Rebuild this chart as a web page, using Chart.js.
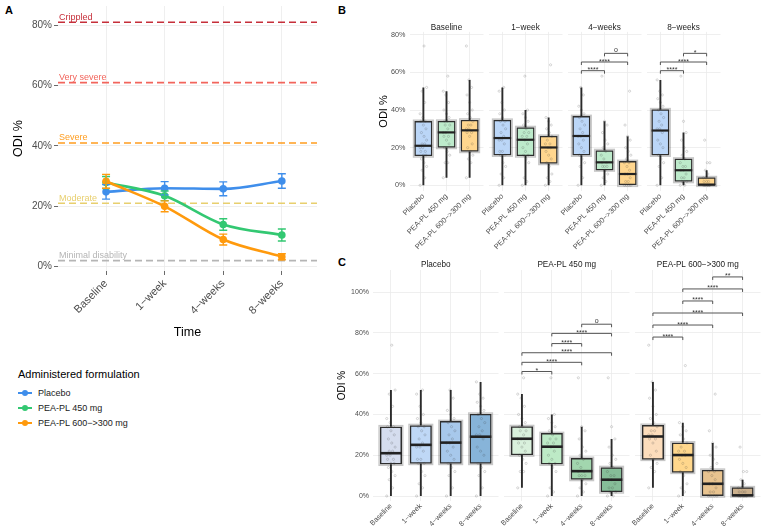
<!DOCTYPE html>
<html>
<head>
<meta charset="utf-8">
<title>ODI % over time</title>
<script src="https://cdn.jsdelivr.net/npm/chart.js@4.4.1/dist/chart.umd.min.js"></script>
<style>
  html, body { margin:0; padding:0; background:#ffffff; }
  #root { position:relative; width:765px; height:528px; overflow:hidden; font-family:"Liberation Sans", Arial, Helvetica, sans-serif; }
  #root canvas { position:absolute; }
  .letter { position:absolute; font-weight:bold; font-size:11px; line-height:12px; color:#000; }
  .leg-title { position:absolute; left:18px; top:367px; font-size:11px; line-height:14px; color:#000; white-space:nowrap; }
  .leg-item { position:absolute; left:18px; height:12px; width:200px; font-size:9px; line-height:12px; color:#1a1a1a; white-space:nowrap; }
  .leg-key { position:absolute; left:0; top:5px; width:14px; height:2px; }
  .leg-dot { position:absolute; left:4px; top:-2px; width:6px; height:6px; border-radius:50%; }
  .leg-text { position:absolute; left:20px; top:0; }
</style>
</head>
<body>
<div id="root">
  <div class="letter" style="left:5px;top:4px;">A</div>
  <div class="letter" style="left:338px;top:4px;">B</div>
  <div class="letter" style="left:338px;top:256px;">C</div>
  <div class="leg-title">Administered formulation</div>
</div>
<script>
// ---------------- data ----------------
const timepoints = ['Baseline', '1\u2212week', '4\u2212weeks', '8\u2212weeks'];
const formulations = ['Placebo', 'PEA-PL 450 mg', 'PEA-PL 600\u2212>300 mg'];

// Panel A: mean ODI % and standard error per time point
const meanPlacebo = [24.8, 26.0, 25.8, 28.4];
const sePlacebo   = [2.4, 2.2, 2.3, 2.4];
const mean450     = [27.9, 23.5, 14.0, 10.5];
const se450       = [2.0, 1.6, 1.9, 2.0];
const mean600     = [28.3, 20.0, 9.0, 3.3];
const se600       = [2.3, 1.8, 1.8, 1.0];

const thresholdValues = [81, 61, 41, 21, 2];
const thresholdLabels = ['Crippled', 'Very severe', 'Severe', 'Moderate', 'Minimal disability'];

const yTicksA = [0, 20, 40, 60, 80];
const yTicksB = [0, 20, 40, 60, 80];
const yTicksC = [0, 20, 40, 60, 80, 100];

// Box statistics [min, q1, median, q3, max] per time point
const boxPlacebo = [[0, 15.6, 21.0, 34.0, 52], [0, 16.0, 25.1, 34.6, 52], [0, 16.0, 26.2, 36.6, 52], [0, 16.0, 29.1, 40.2, 56]];
const box450     = [[4, 20.1, 28.1, 34.1, 50], [0, 15.6, 24.2, 30.7, 40], [0, 8.1, 12.2, 18.5, 34], [0, 2.0, 8.0, 14.0, 28]];
const box600     = [[4, 18.0, 29.2, 34.7, 56], [0, 11.6, 20.1, 26.1, 36], [0, 0, 6.0, 12.7, 26], [0, 0, 0.3, 4.1, 8]];

// Individual observations (ODI %) per time point
const ptsPlacebo = [
  [0, 4, 8, 10, 12, 14, 16, 16, 18, 18, 20, 20, 22, 22, 24, 26, 28, 30, 32, 34, 34, 36, 38, 44, 50, 52, 74],
  [0, 4, 6, 10, 12, 16, 16, 18, 18, 22, 24, 24, 26, 28, 30, 32, 34, 34, 36, 38, 40, 44, 50, 52],
  [0, 4, 10, 12, 14, 16, 18, 20, 22, 24, 26, 26, 28, 30, 32, 34, 36, 38, 40, 42, 48, 52],
  [0, 4, 10, 12, 14, 16, 20, 22, 24, 28, 30, 30, 32, 34, 36, 38, 40, 42, 44, 46, 48, 50, 56]
];
const pts450 = [
  [4, 12, 12, 16, 18, 20, 22, 24, 26, 26, 28, 28, 30, 32, 32, 34, 34, 36, 38, 40, 44, 48, 50, 58],
  [0, 2, 4, 12, 14, 16, 16, 18, 20, 22, 24, 26, 26, 28, 28, 30, 32, 34, 36, 38, 40, 58],
  [0, 2, 4, 6, 8, 10, 10, 10, 12, 12, 14, 16, 18, 20, 22, 24, 28, 32, 34, 58],
  [0, 0, 2, 2, 4, 4, 6, 8, 8, 10, 10, 12, 14, 16, 18, 20, 24, 28, 34, 58]
];
const pts600 = [
  [4, 12, 14, 16, 18, 20, 22, 26, 28, 28, 30, 30, 32, 32, 34, 36, 38, 40, 44, 48, 52, 56, 74],
  [0, 2, 4, 6, 10, 12, 14, 16, 18, 20, 20, 22, 22, 24, 26, 28, 30, 32, 34, 36, 64],
  [0, 0, 0, 0, 2, 2, 4, 6, 6, 8, 10, 12, 12, 14, 16, 18, 20, 24, 26, 32, 50],
  [0, 0, 0, 0, 0, 0, 0, 2, 2, 2, 4, 4, 6, 8, 12, 12, 24]
];

// Pairwise comparisons [groupA, groupB, ODI % height, label]
const sigB = [
  [],
  [],
  [[1, 2, 60.9, '****'], [1, 3, 65.5, '****'], [2, 3, 70.1, 'o']],
  [[1, 2, 60.9, '****'], [1, 3, 65.5, '****'], [2, 3, 70.1, '*']]
];
const sigC = [
  [],
  [[1, 2, 61.1, '*'], [1, 3, 65.6, '****'], [1, 4, 70.3, '****'], [2, 3, 74.8, '****'], [2, 4, 79.8, '****'], [3, 4, 84.3, 'o']],
  [[1, 2, 78.0, '****'], [1, 3, 83.9, '****'], [1, 4, 89.8, '****'], [2, 3, 95.7, '****'], [2, 4, 101.6, '****'], [3, 4, 107.5, '**']]
];

// ---------------- styles ----------------
const FONT = '"Liberation Sans", Arial, Helvetica, sans-serif';
const lineColors = ['#3F8EEB', '#33C872', '#FF9A0D'];
const thresholdColors = ['#C62F3A', '#F2655C', '#FF9D1F', '#E8CF6E', '#B5B5B5'];
const fillB = ['#BBD6F7', '#BDEACB', '#FFD68E'];
const fillC = [
  ['#D5DDEE', '#BFD8F6', '#A7C8EB', '#87B4D9'],
  ['#D9F0DC', '#BDEAC6', '#A2D6AE', '#86BD98'],
  ['#FCDDBC', '#FFD78C', '#E8C38F', '#CBB08D']
];
const GRID = '#EBEBEB';

Chart.defaults.font.family = FONT;
Chart.defaults.color = '#4D4D4D';
Chart.defaults.animation = false;

const root = document.getElementById('root');
function makeCanvas(left, top, w, h) {
  const c = document.createElement('canvas');
  c.width = w; c.height = h;
  c.style.left = left + 'px'; c.style.top = top + 'px';
  c.style.width = w + 'px'; c.style.height = h + 'px';
  root.appendChild(c);
  return c;
}
function fixSize(size, horizontal) {
  return s => {
    if (horizontal) s.height = size; else s.width = size;
    s.paddingTop = 0; s.paddingBottom = 0; s.paddingLeft = 0; s.paddingRight = 0;
  };
}
function fixedTicks(values) { return s => { s.ticks = values.map(v => ({ value: v })); }; }
const jitter = i => ((((i * 7) % 11) - 5) / 5) * 0.14;

// ---------------- legend (HTML) ----------------
formulations.forEach((f, i) => {
  const d = document.createElement('div');
  d.className = 'leg-item';
  d.style.top = (386.5 + i * 15.4) + 'px';
  d.innerHTML = '<div class="leg-key" style="background:' + lineColors[i] + '"><div class="leg-dot" style="background:' + lineColors[i] + '"></div></div><div class="leg-text">' + f.replace('>', '&gt;') + '</div>';
  root.appendChild(d);
});

// ---------------- Panel A ----------------
(function panelA() {
  const L = 58, T = 6, R = 317, B = 271, W = 330, H = 342;
  const xMin = 0.18, xMax = 4.6, yMin = -1.43, yMax = 86.4;
  const cv = makeCanvas(0, 0, W, H);
  const series = [
    { label: formulations[0], mean: meanPlacebo, se: sePlacebo, color: lineColors[0], order: 3 },
    { label: formulations[1], mean: mean450, se: se450, color: lineColors[1], order: 2 },
    { label: formulations[2], mean: mean600, se: se600, color: lineColors[2], order: 1 }
  ];
  const datasets = series.map(s => ({
    type: 'line', label: s.label, order: s.order,
    data: s.mean.map((v, i) => ({ x: i + 1, y: v })),
    borderColor: s.color, backgroundColor: s.color, borderWidth: 2.6,
    pointRadius: 3.8, pointBorderWidth: 0, cubicInterpolationMode: 'monotone', fill: false
  }));
  thresholdValues.forEach((v, i) => datasets.push({
    type: 'line', label: thresholdLabels[i], order: 10,
    data: [{ x: xMin, y: v }, { x: xMax, y: v }],
    borderColor: thresholdColors[i], borderWidth: 1.6, borderDash: [7, 4], pointRadius: 0, fill: false
  }));
  const decor = {
    id: 'decorA',
    beforeDatasetsDraw(chart) {
      const { ctx, scales: { y }, chartArea } = chart;
      ctx.save();
      ctx.font = '9px ' + FONT;
      ctx.textAlign = 'left'; ctx.textBaseline = 'alphabetic';
      thresholdValues.forEach((v, i) => {
        ctx.fillStyle = thresholdColors[i];
        ctx.fillText(thresholdLabels[i], chartArea.left + 1, y.getPixelForValue(v) - 2.5);
      });
      ctx.restore();
    },
    afterDatasetsDraw(chart) {
      const { ctx, scales: { x, y } } = chart;
      ctx.save();
      series.forEach(s => {
        ctx.strokeStyle = s.color; ctx.lineWidth = 1.4;
        s.mean.forEach((m, i) => {
          const px = x.getPixelForValue(i + 1);
          const t = y.getPixelForValue(m + s.se[i]), b = y.getPixelForValue(m - s.se[i]);
          ctx.beginPath();
          ctx.moveTo(px, t); ctx.lineTo(px, b);
          ctx.moveTo(px - 4, t); ctx.lineTo(px + 4, t);
          ctx.moveTo(px - 4, b); ctx.lineTo(px + 4, b);
          ctx.stroke();
        });
      });
      ctx.restore();
    }
  };
  new Chart(cv, {
    type: 'line',
    data: { datasets },
    options: {
      responsive: false, animation: false, events: [],
      layout: { padding: { left: 0, top: T, right: W - R, bottom: 0 } },
      plugins: { legend: { display: false }, tooltip: { enabled: false } },
      scales: {
        x: {
          type: 'linear', min: xMin, max: xMax, offset: false,
          afterBuildTicks: fixedTicks(timepoints.map((t, i) => i + 1)),
          afterFit: fixSize(H - B, true),
          ticks: { callback: v => timepoints[Math.round(v) - 1], autoSkip: false, minRotation: 45, maxRotation: 45, padding: 2, font: { size: 11 }, color: '#4D4D4D' },
          grid: { color: GRID, lineWidth: 0.8, drawTicks: true, tickLength: 4, tickColor: '#444', tickWidth: 0.8 },
          border: { display: false },
          title: { display: true, text: 'Time', font: { size: 12.5 }, color: '#000', padding: { top: 0, bottom: 2 } }
        },
        y: {
          type: 'linear', min: yMin, max: yMax,
          afterBuildTicks: fixedTicks(yTicksA),
          afterFit: fixSize(L, false),
          ticks: { callback: v => v + '%', padding: 2, font: { size: 10 }, color: '#4D4D4D' },
          grid: { color: GRID, lineWidth: 0.8, drawTicks: true, tickLength: 4, tickColor: '#444', tickWidth: 0.8 },
          border: { display: false },
          title: { display: true, text: 'ODI %', font: { size: 12.5 }, color: '#000', padding: { top: 11, bottom: 0 } }
        }
      }
    },
    plugins: [decor]
  });
})();

// ---------------- Facet helper (B, C) ----------------
function facet(o) {
  const canvasTop = Math.floor(o.stripY - 8);
  const left = Math.floor(o.cx - o.yW);
  const yW = o.cx - left;
  const padTop = o.cy - canvasTop;
  const W = Math.ceil(yW + o.w + 3);
  const padRight = W - yW - o.w;
  const H = Math.ceil(padTop + o.h + o.xH);
  const xH = H - padTop - o.h;
  const cv = makeCanvas(left, canvasTop, W, H);
  const boxData = o.boxes.map((b, k) => ({ x: k + 1, y: [b[1], b[3]] }));
  const ptData = [];
  o.points.forEach((arr, k) => arr.forEach((v, i) => ptData.push({ x: k + 1 + jitter(i), y: v })));
  const bw = o.boxW;
  const decor = {
    id: 'decorFacet',
    beforeDatasetsDraw(chart) {
      const { ctx, scales: { x, y } } = chart;
      ctx.save();
      o.boxes.forEach((b, k) => {
        const px = x.getPixelForValue(k + 1);
        ctx.strokeStyle = '#2b2b2b'; ctx.lineWidth = 1.9;
        ctx.beginPath();
        ctx.moveTo(px, y.getPixelForValue(b[4])); ctx.lineTo(px, y.getPixelForValue(b[3]));
        ctx.moveTo(px, y.getPixelForValue(b[1])); ctx.lineTo(px, y.getPixelForValue(b[0]));
        ctx.stroke();
        const t = y.getPixelForValue(b[3]), bt = y.getPixelForValue(b[1]);
        ctx.strokeStyle = 'rgba(0,0,0,0.22)'; ctx.lineWidth = 1.4;
        ctx.strokeRect(px - bw / 2 - 1.1, t - 1.1, bw + 2.2, bt - t + 2.2);
      });
      ctx.restore();
    },
    afterDatasetsDraw(chart) {
      const { ctx, scales: { x, y } } = chart;
      ctx.save();
      o.boxes.forEach((b, k) => {
        const px = x.getPixelForValue(k + 1);
        const py = y.getPixelForValue(b[2]);
        ctx.strokeStyle = '#222'; ctx.lineWidth = o.medianW;
        ctx.beginPath(); ctx.moveTo(px - bw / 2, py); ctx.lineTo(px + bw / 2, py); ctx.stroke();
      });
      ctx.font = o.sigSize + 'px ' + FONT;
      ctx.textAlign = 'center'; ctx.textBaseline = 'alphabetic';
      o.sig.forEach(s => {
        const xa = x.getPixelForValue(s[0]), xb = x.getPixelForValue(s[1]), py = y.getPixelForValue(s[2]);
        ctx.strokeStyle = '#555'; ctx.lineWidth = 1;
        ctx.beginPath();
        ctx.moveTo(xa, py + 3); ctx.lineTo(xa, py); ctx.lineTo(xb, py); ctx.lineTo(xb, py + 3);
        ctx.stroke();
        ctx.fillStyle = '#333';
        ctx.fillText(s[3], (xa + xb) / 2, s[3] === 'o' ? py - 1.5 : py + 1.5);
      });
      ctx.restore();
    },
    afterDraw(chart) {
      const { ctx, chartArea } = chart;
      ctx.save();
      ctx.font = o.stripSize + 'px ' + FONT;
      ctx.fillStyle = '#1A1A1A'; ctx.textAlign = 'center'; ctx.textBaseline = 'middle';
      ctx.fillText(o.strip, (chartArea.left + chartArea.right) / 2, o.stripY - canvasTop);
      ctx.restore();
    }
  };
  new Chart(cv, {
    type: 'scatter',
    data: {
      datasets: [
        { type: 'scatter', data: ptData, order: 0, pointRadius: 1.1, pointStyle: 'circle',
          borderColor: 'rgba(60,60,60,0.38)', backgroundColor: 'rgba(0,0,0,0)', borderWidth: 0.5 },
        { type: 'bar', data: boxData, order: 1, backgroundColor: o.fills, borderColor: '#2e2e2e',
          borderWidth: 1.5, borderSkipped: false, barThickness: bw }
      ]
    },
    options: {
      responsive: false, animation: false, events: [],
      layout: { padding: { left: 0, top: padTop, right: padRight, bottom: 0 } },
      plugins: { legend: { display: false }, tooltip: { enabled: false } },
      scales: {
        x: {
          type: 'linear', min: o.xMin, max: o.xMax, offset: false,
          afterBuildTicks: fixedTicks(o.labels.map((l, i) => i + 1)),
          afterFit: fixSize(xH, true),
          ticks: { callback: v => o.labels[Math.round(v) - 1], autoSkip: false, minRotation: 45, maxRotation: 45, padding: 1, font: { size: o.xTickSize }, color: '#4D4D4D' },
          grid: { color: GRID, lineWidth: 0.8, drawTicks: false, offset: false },
          border: { display: false }
        },
        y: {
          type: 'linear', min: o.yMin, max: o.yMax,
          afterBuildTicks: fixedTicks(o.yTicks),
          afterFit: fixSize(yW, false),
          ticks: { display: o.showY, callback: v => v + '%', padding: 4, font: { size: o.yTickSize }, color: '#4D4D4D' },
          grid: { color: GRID, lineWidth: 0.8, drawTicks: false },
          border: { display: false },
          title: { display: o.showY, text: 'ODI %', font: { size: o.yTitleSize }, color: '#000', padding: { top: o.yTitlePad, bottom: 0 } }
        }
      }
    },
    plugins: [decor]
  });
}

// ---------------- Panel B: by time point ----------------
timepoints.forEach((tp, t) => {
  facet({
    cx: 409.5 + t * 79, cy: 31.9, w: 74.7, h: 159.1, yW: t === 0 ? 37.5 : 30, xH: 60,
    stripY: 27.3, strip: tp, stripSize: 8.2,
    xMin: 0.4, xMax: 3.6, yMin: -3.03, yMax: 81.5, yTicks: yTicksB,
    showY: t === 0, yTitleSize: 11, yTitlePad: 5, yTickSize: 7.2, xTickSize: 7.5,
    labels: formulations,
    boxes: [boxPlacebo[t], box450[t], box600[t]],
    points: [ptsPlacebo[t], pts450[t], pts600[t]],
    fills: fillB, boxW: 17.5, medianW: 2.2, sig: sigB[t], sigSize: 7
  });
});

// ---------------- Panel C: by formulation ----------------
const boxesByForm = [boxPlacebo, box450, box600];
const ptsByForm = [ptsPlacebo, pts450, pts600];
formulations.forEach((fm, f) => {
  facet({
    cx: 373 + f * 131, cy: 270, w: 126.4, h: 231, yW: f === 0 ? 38 : 30, xH: 27,
    stripY: 264.7, strip: fm, stripSize: 8.2,
    xMin: 0.4, xMax: 4.6, yMin: -2.45, yMax: 110.9, yTicks: yTicksC,
    showY: f === 0, yTitleSize: 10, yTitlePad: 1.7, yTickSize: 7, xTickSize: 7.2,
    labels: timepoints,
    boxes: boxesByForm[f], points: ptsByForm[f],
    fills: fillC[f], boxW: 21.5, medianW: 2.6, sig: sigC[f], sigSize: 7
  });
});
</script>
</body>
</html>
